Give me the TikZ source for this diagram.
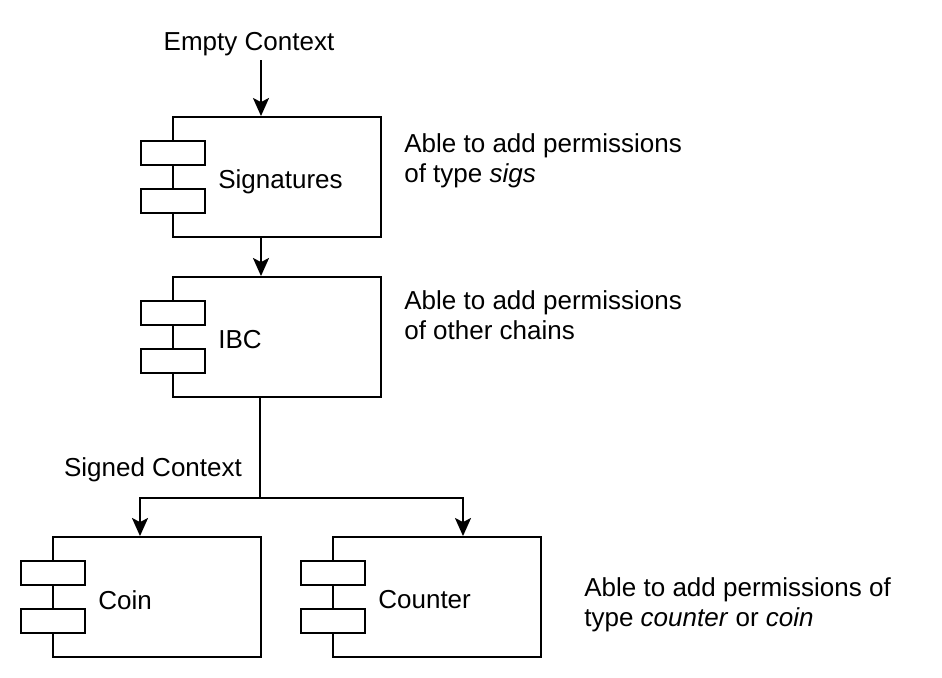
\documentclass[tikz,border=0pt]{standalone}
\usepackage{fontspec}
\setmainfont{Liberation Sans}
\usepackage{tikz}
\usetikzlibrary{arrows.meta,positioning,calc}
\tikzset{
  comp/.style={draw,line width=1.1pt,minimum width=4.16cm,minimum height=2.4cm,inner sep=0pt},
  port/.style={draw,line width=1.1pt,fill=white,minimum width=1.28cm,minimum height=0.48cm,inner sep=0pt},
  flow/.style={-{Stealth[length=0.36cm,width=0.32cm,inset=0.08cm]},line width=1.1pt},
  txt/.style={inner sep=0pt,align=left,font=\fontsize{14.8}{17.1}\selectfont},
}

\begin{document}
\begin{tikzpicture}[x=0.02cm,y=-0.02cm]
  \useasboundingbox (0,0) rectangle (942,678);
  % components
  \node[comp] (sig) at (277,177) {};
  \node[comp] (ibc) at (277,337) {};
  \node[comp] (coin) at (157,597) {};
  \node[comp] (ctr) at (437,597) {};
  \foreach \n in {sig,ibc,coin,ctr}{
    \node[port] (\n-p1) at ($(\n.west)+(1,-24)$) {};
    \node[port] (\n-p2) at ($(\n.west)+(1,24)$) {};
  }
  \node[txt,anchor=west] (sigtxt) at (218,182) {Signatures};
  \node[txt,anchor=west] (ibctxt) at (218,340) {IBC};
  \node[txt,anchor=west] (cointxt) at (98,600) {Coin};
  \node[txt,anchor=west] (ctrtxt) at (378,600) {Counter};
  % contexts and notes
  \node[txt] (empty) at (249,44) {Empty Context};
  \node[txt] (signed) at (153,470) {Signed Context};
  \node[txt,anchor=west] (signote) at (404,161) {Able to add permissions\\of type \textit{sigs}};
  \node[txt,anchor=west] (ibcnote) at (404,315) {Able to add permissions\\of other chains};
  \node[txt,anchor=west] (ctrnote) at (584,605) {Able to add permissions of\\type \textit{counter} or \textit{coin}};
  % arrows
  \draw[flow] ($(sig.north)+(-16,-56)$) -- ($(sig.north)+(-16,0)$);
  \draw[flow] ($(sig.south)+(-16,0)$) -- ($(ibc.north)+(-16,0)$);
  \draw[flow] ($(ibc.south)+(-17,0)$) -- ++(0,100) coordinate (split) -| ($(coin.north)+(-17,0)$);
  \draw[flow] (split) -| ($(ctr.north)+(26,0)$);
\end{tikzpicture}
\end{document}
